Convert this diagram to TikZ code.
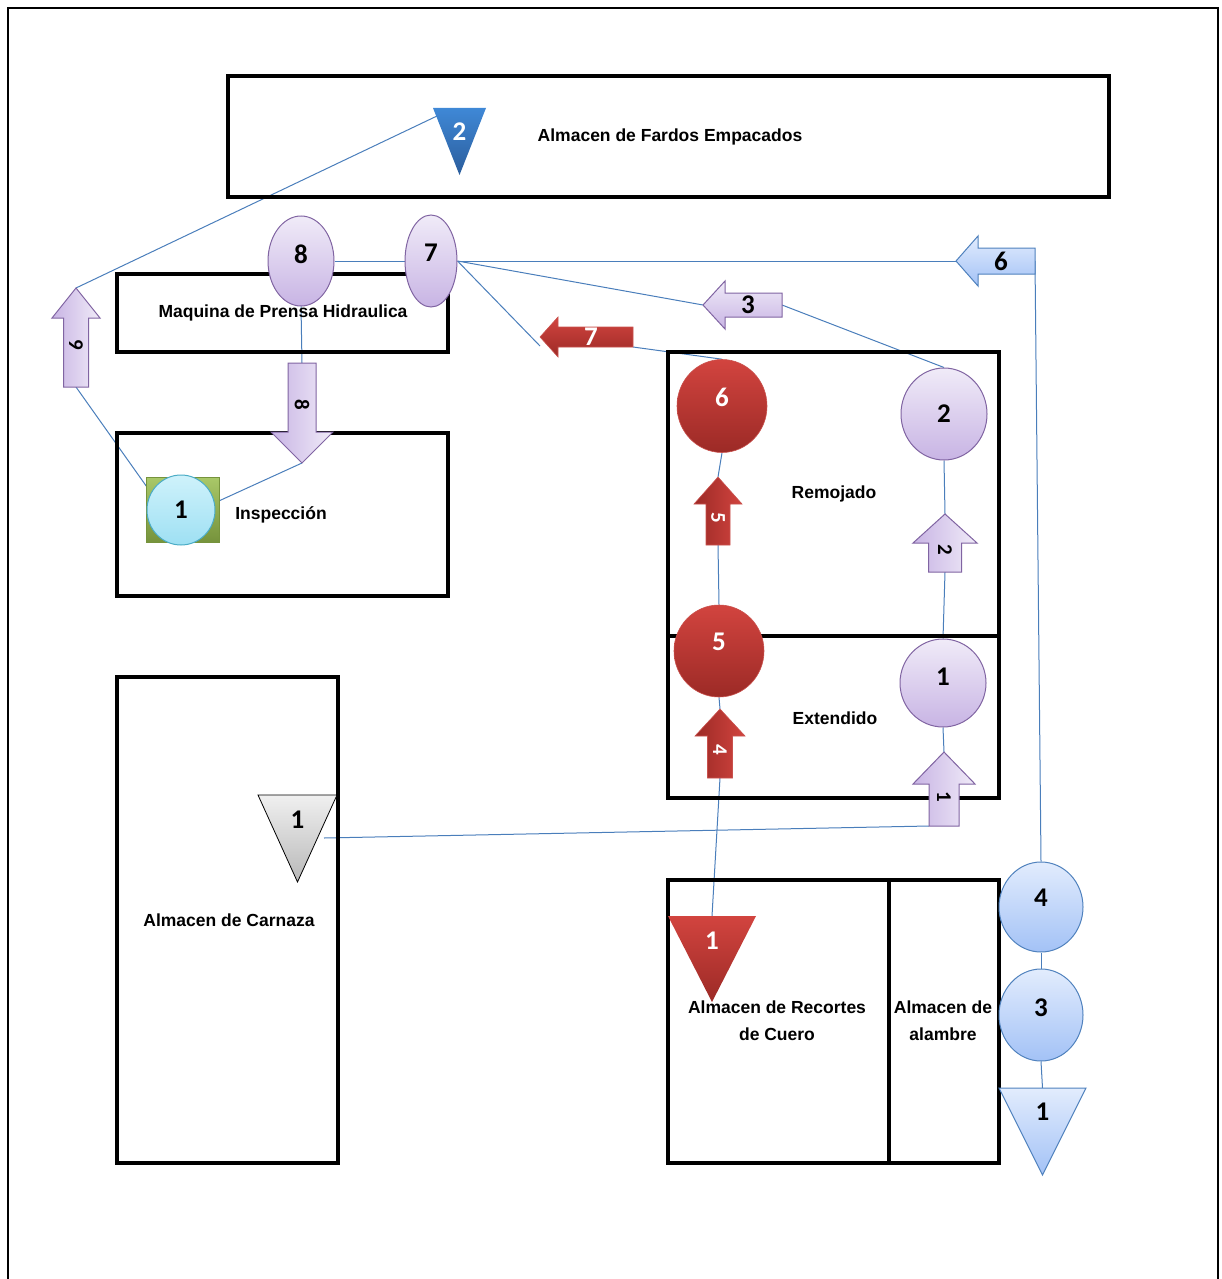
\documentclass[tikz,border=0pt]{standalone}
\usepackage{fontspec}
\setmainfont{Liberation Sans}
\newfontfamily\carl{Carlito}
\usetikzlibrary{shapes.geometric}
\pgfdeclarelayer{bg}
\pgfsetlayers{bg,main}
\definecolor{lavL}{HTML}{F0EBF8}
\definecolor{lavD}{HTML}{C8B4E4}
\definecolor{lavB}{HTML}{8064A2}
\definecolor{redL}{HTML}{D2443F}
\definecolor{redD}{HTML}{9C2A26}
\definecolor{redB}{HTML}{C9514D}
\definecolor{bluL}{HTML}{E2ECFD}
\definecolor{bluD}{HTML}{A3C2F6}
\definecolor{bluB}{HTML}{4F81BD}
\definecolor{dbL}{HTML}{3F88D6}
\definecolor{dbD}{HTML}{2B5D9C}
\definecolor{gryL}{HTML}{F0F0F0}
\definecolor{gryD}{HTML}{B8B8B8}
\definecolor{cyL}{HTML}{CFF2FB}
\definecolor{cyD}{HTML}{9EE0F3}
\definecolor{cyB}{HTML}{4BACC6}
\definecolor{grL}{HTML}{A9C868}
\definecolor{grD}{HTML}{76933C}
\definecolor{connC}{HTML}{4A7EBB}
\newcommand\numfont{\carl\bfseries\fontsize{27}{27}\selectfont}
\newcommand\arrfont{\carl\bfseries\fontsize{21}{21}\selectfont}
\newcommand\boxfont{\bfseries\fontsize{17.5}{27}\selectfont}
% up/down arrow: name, cx, ytip, yhead, yend, halfhead, halfshaft, style, label
\newcommand{\UpArr}[9]{%
  \path[#8] (#2,#3) -- ({#2+#6},#4) -- ({#2+#7},#4) -- ({#2+#7},#5) -- ({#2-#7},#5) -- ({#2-#7},#4) -- ({#2-#6},#4) -- cycle;
  \coordinate (#1-tip) at (#2,#3);
  \coordinate (#1-tail) at (#2,#5);
  \coordinate (#1-bl) at ({#2-#7},#5);
  \node[#8lbl] (#1) at (#2,{(#3+#5)/4+(#4+#5)/4}) {#9};
}
% left arrow: name, xtip, cy, xhead, xend, halfhead, halfshaft, style, label
\newcommand{\LeftArr}[9]{%
  \path[#8] (#2,#3) -- (#4,{#3-#6}) -- (#4,{#3-#7}) -- (#5,{#3-#7}) -- (#5,{#3+#7}) -- (#4,{#3+#7}) -- (#4,{#3+#6}) -- cycle;
  \coordinate (#1-tip) at (#2,#3);
  \coordinate (#1-tail) at (#5,#3);
  \coordinate (#1-br) at (#5,{#3+#7});
  \node[#8lbl] (#1) at ({(#2+#5)/4+(#4+#5)/4},#3) {#9};
}
% down triangle: name, xl, xr, ytop, yapex, style, label, ylabel
\newcommand{\DownTri}[8]{%
  \path[#6] (#2,#4) -- (#3,#4) -- ({(#2+#3)/2},#5) -- cycle;
  \coordinate (#1-top) at ({(#2+#3)/2},#4);
  \node[#6lbl] (#1) at ({(#2+#3)/2},#8) {#7};
}
\begin{document}
\begin{tikzpicture}[x=1pt,y=-1pt,
  boxline/.style={draw=black,line width=3.2},
  boxtxt/.style={font=\boxfont,inner sep=0,text=black},
  conn/.style={draw=connC,line width=1},
  raiseT/.style={text depth=#1},
  purpV/.style={left color=lavD,right color=lavL,draw=lavB,line width=1},
  purpVlbl/.style={font=\arrfont,rotate=-90,inner sep=0,text=black},
  purpH/.style={top color=lavL,bottom color=lavD,draw=lavB,line width=1},
  purpHlbl/.style={font=\numfont,inner sep=0,text=black},
  redV/.style={left color=redD,right color=redL,draw=redB,line width=0.6},
  redVlbl/.style={font=\arrfont,rotate=-90,inner sep=0,text=white},
  redH/.style={top color=redL,bottom color=redD,draw=redB,line width=0.6},
  redHlbl/.style={font=\numfont,inner sep=0,text=white},
  blueH/.style={top color=bluL,bottom color=bluD,draw=bluB,line width=1},
  blueHlbl/.style={font=\numfont,inner sep=0,text=black},
  triDB/.style={top color=dbL,bottom color=dbD},
  triDBlbl/.style={font=\numfont,inner sep=0,text=white},
  triGR/.style={top color=gryL,bottom color=gryD,draw=black,line width=0.8},
  triGRlbl/.style={font=\numfont,inner sep=0,text=black},
  triRD/.style={top color=redL,bottom color=redD},
  triRDlbl/.style={font=\numfont,inner sep=0,text=white},
  triBL/.style={top color=bluL,bottom color=bluD,draw=bluB,line width=1},
  triBLlbl/.style={font=\numfont,inner sep=0,text=black},
  purpC/.style={ellipse,top color=lavL,bottom color=lavD,draw=lavB,line width=1,inner sep=0,font=\numfont,text=black},
  redC/.style={ellipse,top color=redL,bottom color=redD,draw=redB,line width=0.6,inner sep=0,font=\numfont,text=white},
  blueC/.style={ellipse,top color=bluL,bottom color=bluD,draw=bluB,line width=1,inner sep=0,font=\numfont,text=black},
  cyanC/.style={ellipse,top color=cyL,bottom color=cyD,draw=cyB,line width=1,inner sep=0,font=\numfont,text=black},
  greenSq/.style={rectangle,top color=grL,bottom color=grD,draw=grD,line width=1,inner sep=0}
]
\useasboundingbox (0,0) rectangle (1222,1279);
% outer frame
\draw[line width=2.2] (8,1279) -- (8,8) -- (1218,8) -- (1218,1279);
% boxes
\draw[boxline] (228,76) rectangle (1109,197);
\draw[boxline] (117,274) rectangle (448,352);
\draw[boxline] (117,433) rectangle (448,596);
\draw[boxline] (668,352) rectangle (999,798);
\draw[boxline] (668,636) -- (999,636);
\draw[boxline] (117,677) rectangle (338,1163);
\draw[boxline] (668,880) rectangle (999,1163);
\draw[boxline] (889,880) -- (889,1163);

% operation circles / ellipses
\node[purpC,raiseT=14,minimum width=66,minimum height=90] (e8) at (301,261) {8};
\node[purpC,raiseT=16,minimum width=52,minimum height=92] (e7) at (431,261) {7};
\node[redC,raiseT=18,minimum width=90,minimum height=93] (r6) at (722,406) {6};
\node[redC,raiseT=18,minimum width=90,minimum height=92] (r5) at (719,651) {5};
\node[purpC,minimum width=86,minimum height=92] (p2) at (944,414) {2};
\node[purpC,raiseT=12,minimum width=86,minimum height=88] (p1) at (943,683) {1};
\node[blueC,raiseT=18,minimum width=84,minimum height=90] (b4) at (1041,907) {4};
\node[blueC,raiseT=14,minimum width=84,minimum height=92] (b3) at (1041,1015) {3};
\node[greenSq,minimum width=73,minimum height=65] (sq) at (182.5,509.5) {};
\node[cyanC,minimum width=68,minimum height=70] (c1) at (181,510) {1};

% triangles
\DownTri{t2}{433}{486}{108}{175}{triDB}{2}{132}
\DownTri{tg}{258}{337}{795}{882}{triGR}{1}{820}
\DownTri{tr}{668}{756}{916}{1002}{triRD}{1}{941}
\DownTri{tb}{999}{1086}{1088}{1175}{triBL}{1}{1112}

% arrows
\UpArr{a9}{76}{288}{318}{387}{24}{12.5}{purpV}{9}
\UpArr{a8}{302}{463}{432}{363}{31}{14}{purpV}{8}
\UpArr{a5}{718}{477}{504}{545}{24}{12}{redV}{5}
\UpArr{a4}{720}{709}{736}{778}{25}{12.5}{redV}{4}
\UpArr{a2}{945}{514}{543}{572}{32}{16.5}{purpV}{2}
\UpArr{a1}{944}{752}{784}{826}{31}{15}{purpV}{1}
\LeftArr{a7}{540}{337}{558}{633}{20}{10}{redH}{7}
\LeftArr{a3}{703}{305}{725}{782}{24}{12}{purpH}{3}
\LeftArr{a6}{956}{261}{978}{1035}{25}{13}{blueH}{6}

\coordinate (f7) at (540,346);
\coordinate (t2-a) at (437,116);
\coordinate (tg-r) at (324,838);

% connectors
\begin{pgfonlayer}{bg}
\draw[conn] (a9-tip) -- (t2-a);
\draw[conn] (a9-tail) -- (c1.150);
\draw[conn] (c1.12) -- (a8-tip);
\draw[conn] (e8.south) -- (a8-tail);
\draw[conn] (e8.east) -- (e7.west);
\draw[conn] (e7.east) -- (a6-tip);
\draw[conn] (e7.east) -- (a3-tip);
\draw[conn] (e7.east) -- (f7);
\draw[conn] (a7-br) -- (r6.north);
\draw[conn] (a3-tail) -- (p2.north);
\draw[conn] (a6-tail) -- (b4.north);
\draw[conn] (r6.south) -- (a5-tip);
\draw[conn] (a5-tail) -- (r5.north);
\draw[conn] (r5.south) -- (a4-tip);
\draw[conn] (a4-tail) -- (tr-top);
\draw[conn] (p2.south) -- (a2-tip);
\draw[conn] (a2-tail) -- (p1.north);
\draw[conn] (p1.south) -- (a1-tip);
\draw[conn] (a1-bl) -- (tg-r);
\draw[conn] (b4.south) -- (b3.north);
\draw[conn] (b3.south) -- (tb-top);
\end{pgfonlayer}

% box texts
\node[boxtxt] (tFardos) at (670,137) {Almacen de Fardos Empacados};
\node[boxtxt] (tMaq) at (283,313) {Maquina de Prensa Hidraulica};
\node[boxtxt] (tInsp) at (281,515) {Inspección};
\node[boxtxt] (tRem) at (834,494) {Remojado};
\node[boxtxt] (tExt) at (835,718) {Extendido};
\node[boxtxt] (tCar) at (229,920) {Almacen de Carnaza};
\node[boxtxt,align=center] (tRec) at (777,1021) {Almacen de Recortes\\de Cuero};
\node[boxtxt,align=center] (tAla) at (943,1021) {Almacen de\\alambre};
\end{tikzpicture}
\end{document}
